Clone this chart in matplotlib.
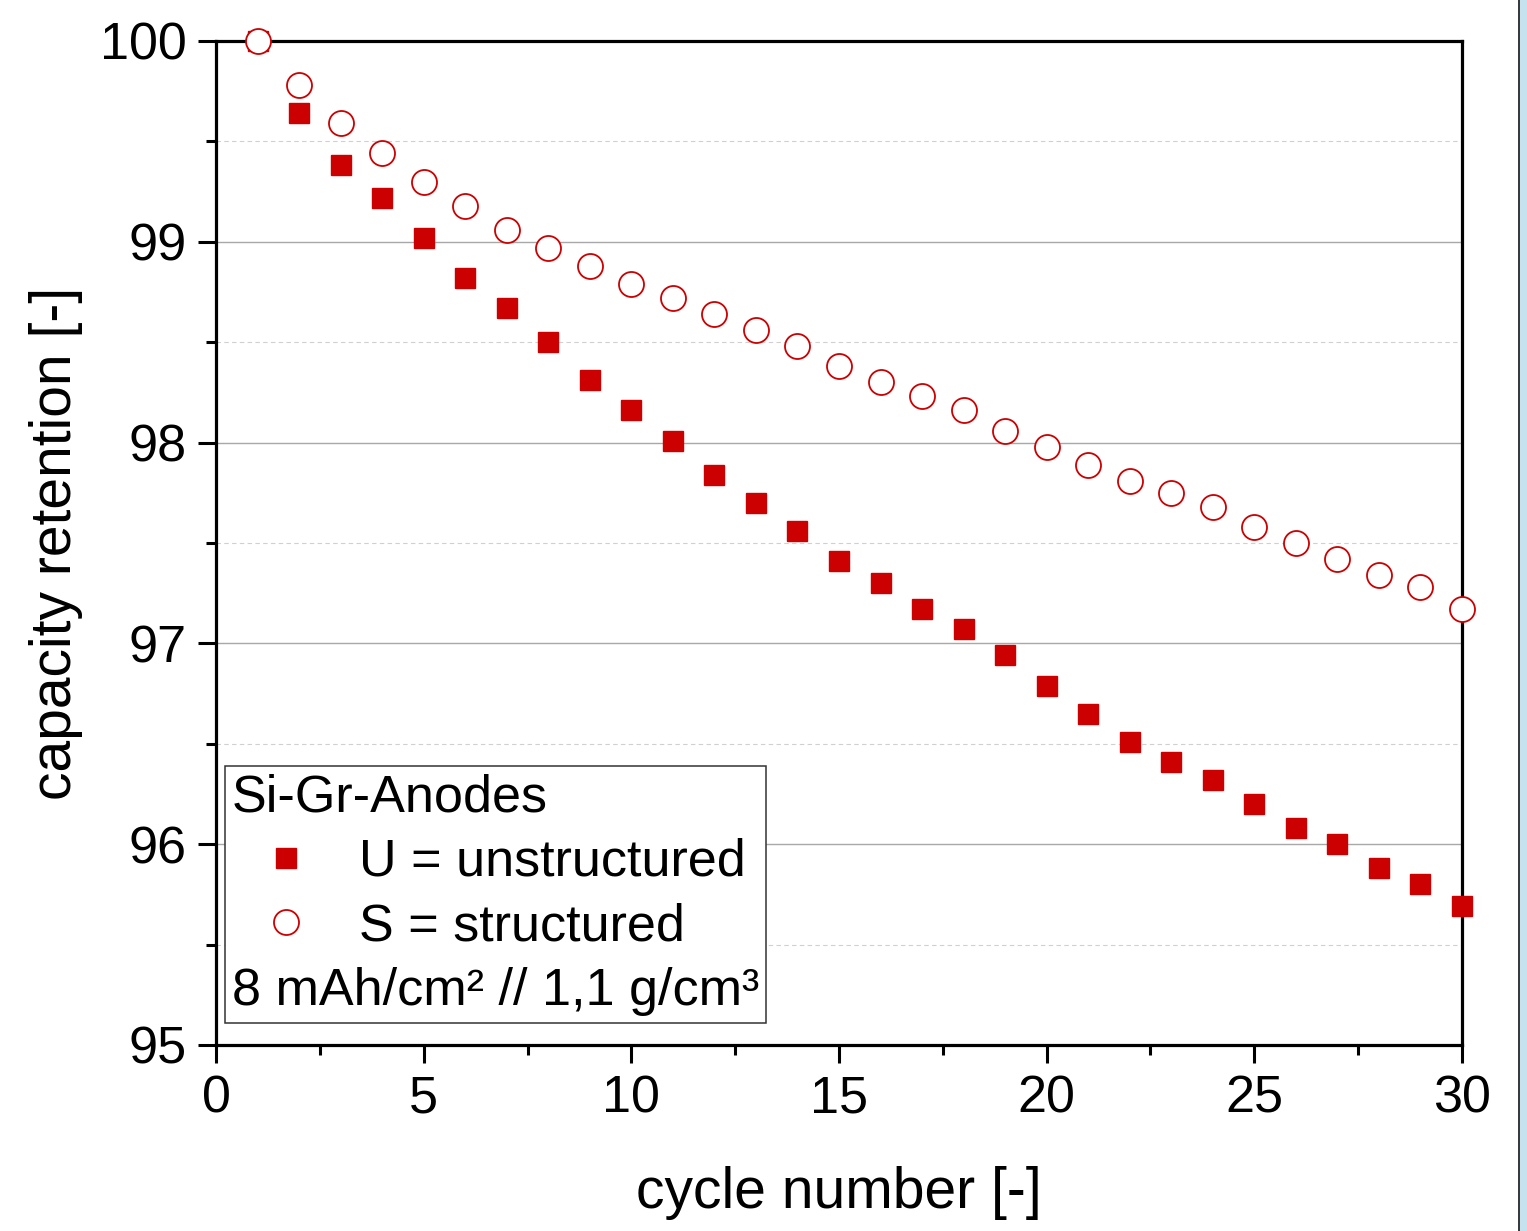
import numpy as np
import matplotlib
matplotlib.use('Agg')
import matplotlib.pyplot as plt
from matplotlib.lines import Line2D
from matplotlib.patches import Rectangle
from matplotlib.ticker import MultipleLocator

plt.rcParams['font.family'] = ['Liberation Sans', 'DejaVu Sans']

# capacity retention per cycle
cycles = np.arange(1, 31)
ret_unstructured = [100.00, 99.64, 99.38, 99.22, 99.02, 98.82, 98.67, 98.50, 98.31, 98.16,
                    98.01, 97.84, 97.70, 97.56, 97.41, 97.30, 97.17, 97.07, 96.94, 96.79,
                    96.65, 96.51, 96.41, 96.32, 96.20, 96.08, 96.00, 95.88, 95.80, 95.69]
ret_structured = [100.00, 99.78, 99.59, 99.44, 99.30, 99.18, 99.06, 98.97, 98.88, 98.79,
                  98.72, 98.64, 98.56, 98.48, 98.38, 98.30, 98.23, 98.16, 98.06, 97.98,
                  97.89, 97.81, 97.75, 97.68, 97.58, 97.50, 97.42, 97.34, 97.28, 97.17]
labels = ['U = unstructured', 'S = structured']
legend_title = 'Si-Gr-Anodes'
legend_note = '8 mAh/cm² // 1,1 g/cm³'

red = '#cc0000'
fs = 37.5
fs_label = 41

fig = plt.figure(figsize=(15.27, 12.31), dpi=100)
ax = fig.add_axes([0.1415, 0.1511, 0.8159, 0.8156])

ax.plot(cycles, ret_unstructured, ls='none', marker='s', ms=15, color=red,
        mec=red, clip_on=False, zorder=5)
ax.plot(cycles, ret_structured, ls='none', marker='o', ms=18, mfc='white',
        mec=red, mew=1.3, clip_on=False, zorder=6)

ax.set_xlim(0, 30)
ax.set_ylim(95, 100)
ax.xaxis.set_major_locator(MultipleLocator(5))
ax.xaxis.set_minor_locator(MultipleLocator(2.5))
ax.yaxis.set_major_locator(MultipleLocator(1))
ax.yaxis.set_minor_locator(MultipleLocator(0.5))

ax.tick_params(which='major', direction='out', length=13, width=2.2, labelsize=fs, pad=8,
               top=False, right=False)
ax.tick_params(which='minor', direction='out', length=7, width=2.2, top=False, right=False)
for sp in ax.spines.values():
    sp.set_linewidth(2.3)

ax.yaxis.grid(True, which='major', color='#a8a8a8', lw=1.0)
ax.yaxis.grid(True, which='minor', color='#d0d0d0', lw=0.8, ls=(0, (4, 3)))
ax.set_axisbelow(True)

ax.set_xlabel('cycle number [-]', fontsize=fs_label, labelpad=31)
ax.set_ylabel('capacity retention [-]', fontsize=fs_label, labelpad=12)

handles = [
    Line2D([], [], ls='none', marker='s', ms=15, color=red),
    Line2D([], [], ls='none', marker='o', ms=18, mfc='white', mec=red, mew=1.3),
    Line2D([], [], ls='none'),
]
leg = ax.legend(handles, labels + [legend_note], title=legend_title, loc='lower left',
                bbox_to_anchor=(0.0072, 0.022), borderaxespad=0, fontsize=fs,
                title_fontsize=fs, alignment='left', fancybox=False, framealpha=1,
                edgecolor='#333333', handlelength=2.1, handletextpad=0.35,
                labelspacing=0.3, borderpad=0.13)
leg.get_frame().set_linewidth(1.1)
leg.set_zorder(10)
# the note line has no marker, so let its text start at the left edge
note_row = leg._legend_handle_box.get_children()[0].get_children()[2]
note_row._children = note_row._children[1:]

# window edge strip on the right
fig.patches.append(Rectangle((1519 / 1527, 0), 8 / 1527, 1, transform=fig.transFigure,
                             facecolor='#c6e2ee', edgecolor='none'))
fig.patches.append(Rectangle((1518 / 1527, 0), 2 / 1527, 1, transform=fig.transFigure,
                             facecolor='#3a3a3a', edgecolor='none'))

fig.savefig('out.png', dpi=100)
